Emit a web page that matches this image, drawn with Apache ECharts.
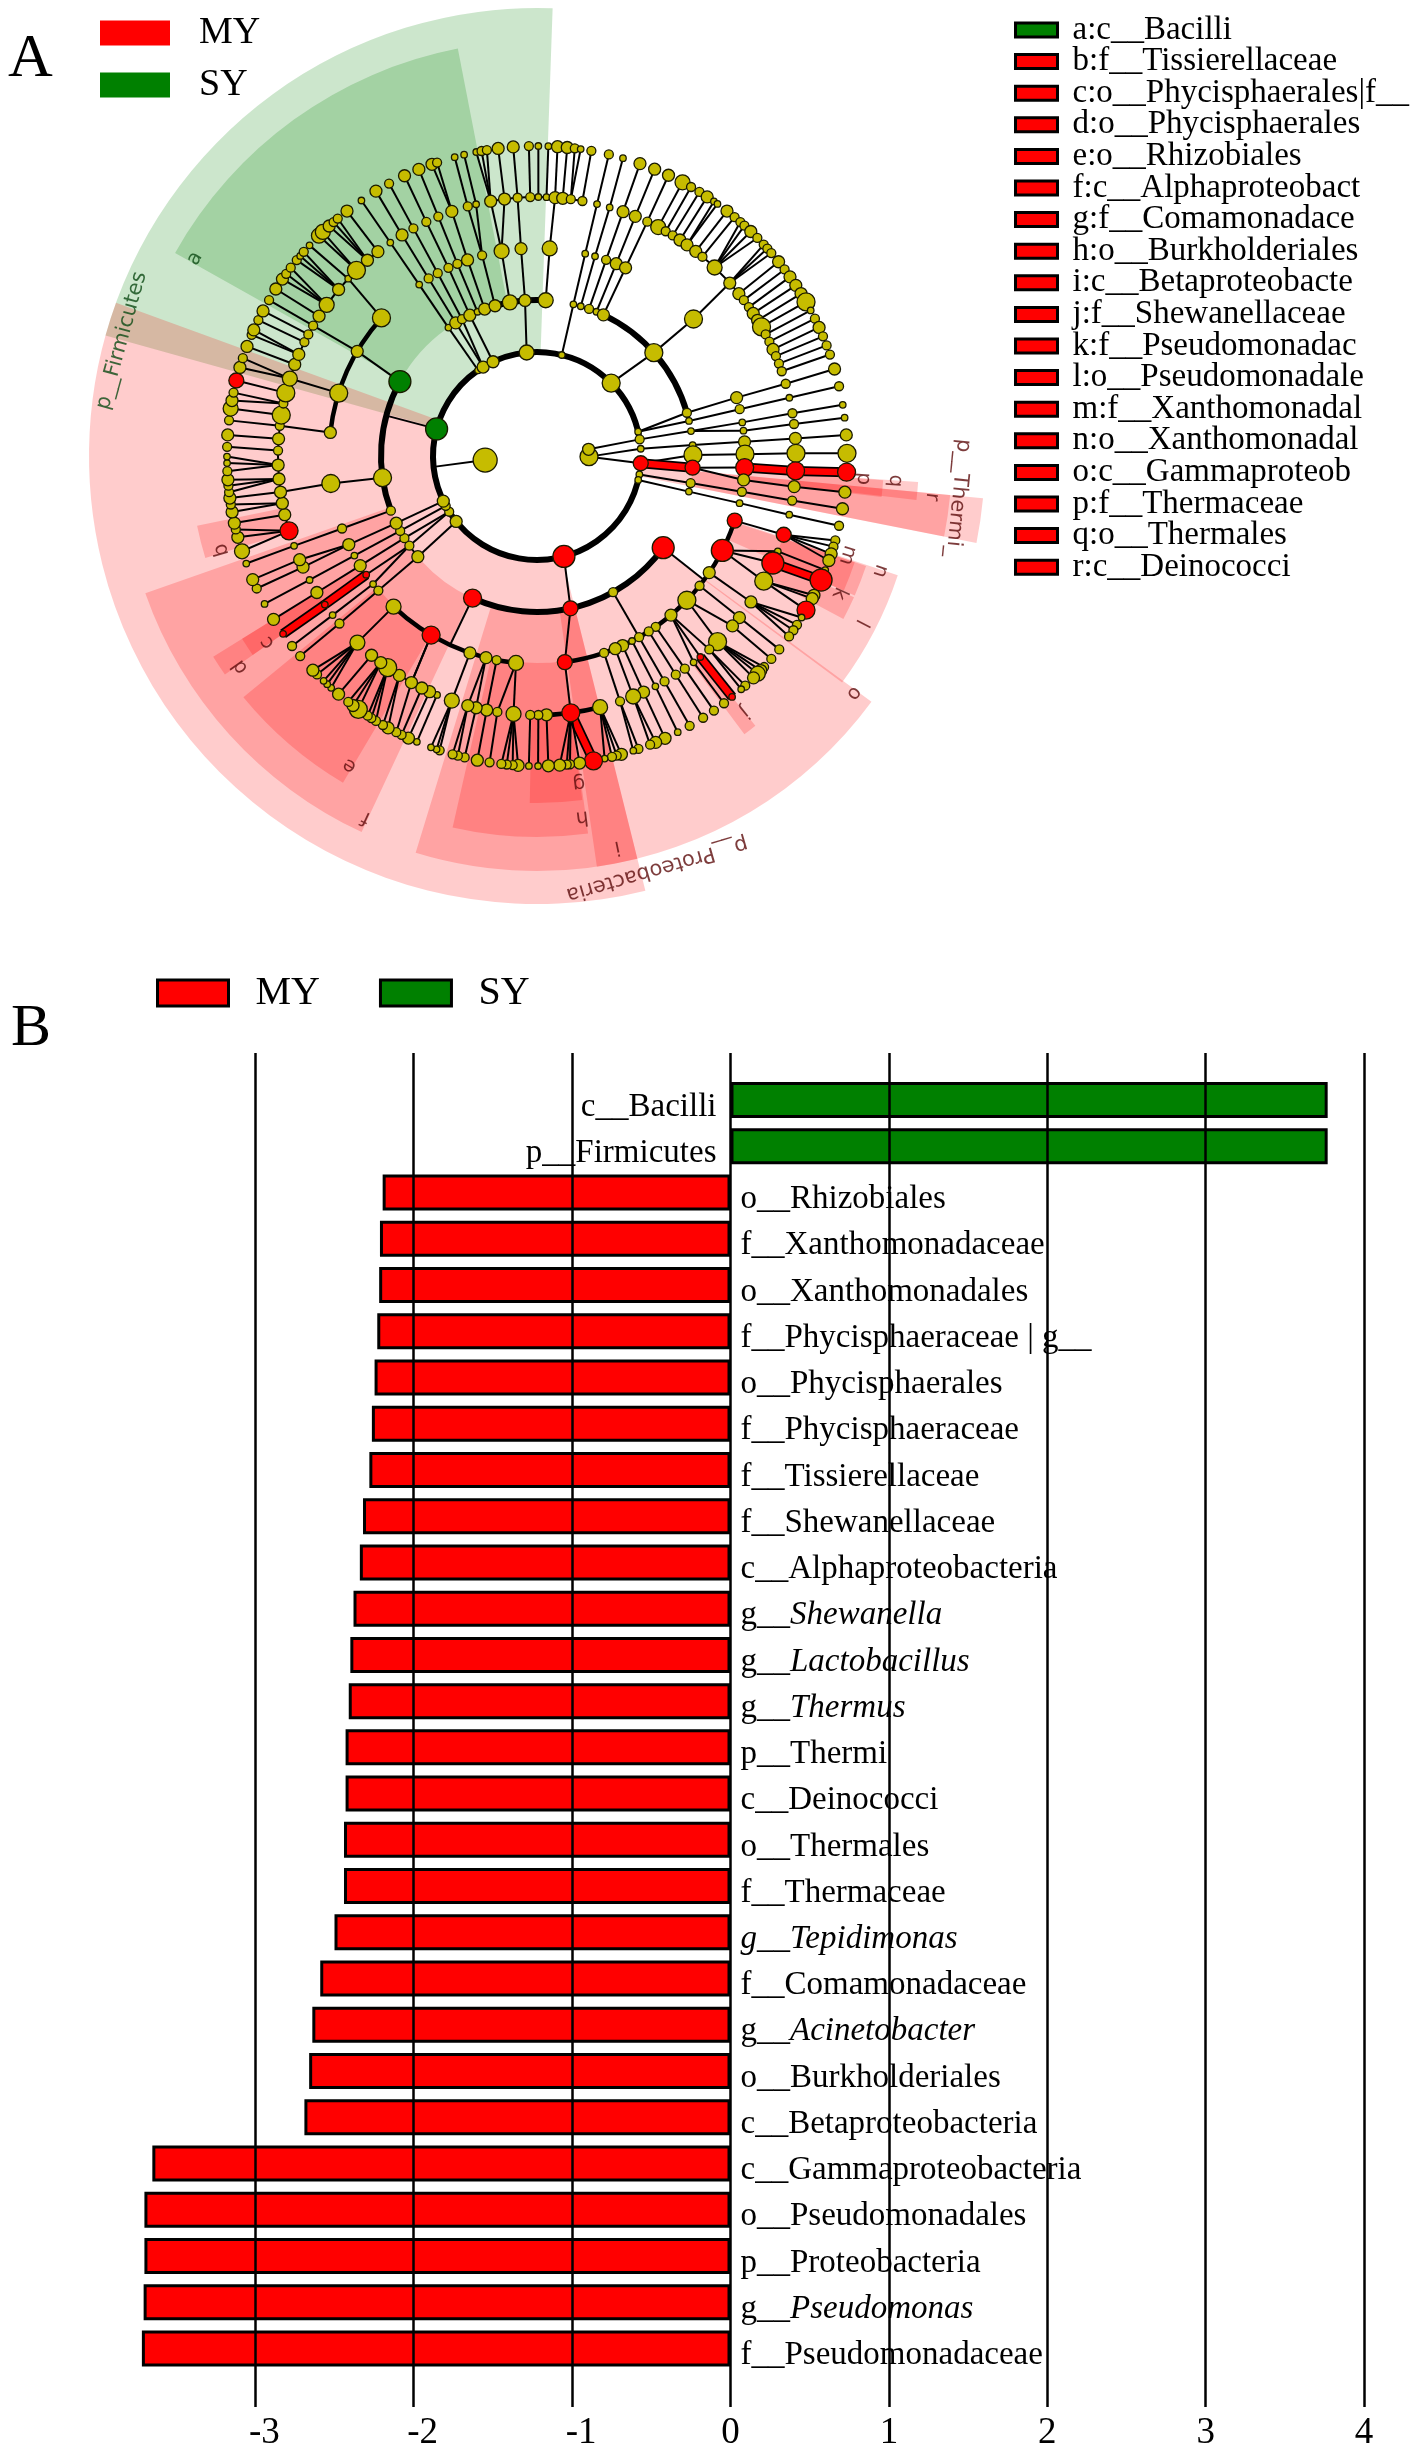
<!DOCTYPE html>
<html>
<head>
<meta charset="utf-8">
<style>html,body{margin:0;padding:0;background:#fff}#c{width:1418px;height:2453px}</style>
<script src="https://cdn.jsdelivr.net/npm/echarts@6/dist/echarts.min.js"></script>
</head>
<body>
<div id="c"></div>
<script>
// ---------- Panel B data ----------
const categories = ['c__Bacilli','p__Firmicutes','o__Rhizobiales','f__Xanthomonadaceae','o__Xanthomonadales','f__Phycisphaeraceae | g__','o__Phycisphaerales','f__Phycisphaeraceae','f__Tissierellaceae','f__Shewanellaceae','c__Alphaproteobacteria','g__Shewanella','g__Lactobacillus','g__Thermus','p__Thermi','c__Deinococci','o__Thermales','f__Thermaceae','g__Tepidimonas','f__Comamonadaceae','g__Acinetobacter','o__Burkholderiales','c__Betaproteobacteria','c__Gammaproteobacteria','o__Pseudomonadales','p__Proteobacteria','g__Pseudomonas','f__Pseudomonadaceae'];
const myValues = [null,null,-2.196,-2.213,-2.218,-2.23,-2.247,-2.264,-2.28,-2.32,-2.34,-2.38,-2.40,-2.41,-2.43,-2.43,-2.44,-2.44,-2.50,-2.59,-2.64,-2.66,-2.69,-3.65,-3.70,-3.70,-3.705,-3.716];
const syValues = [3.77,3.77];
const xTicks = [-3,-2,-1,0,1,2,3,4];
const wholeItalic = ['g__Tepidimonas'];

// ---------- Panel A data: clades shaded on the cladogram ----------
// [name, inner radius, outer radius, from angle, to angle, group]
const cladeSectors = [
  ['p__Firmicutes',104,448,285.6,362,'SY'],
  ['p__Proteobacteria',104,448,166,290,'MY'],
  ['p__Thermi_',104,448,95.4,101.2,'MY'],
  ['a:c__Bacilli',156,415,299.3,349,'SY'],
  ['b:f__Tissierellaceae',259,347,252.9,258.4,'MY'],
  ['c:o__Phycisphaerales|f__',259,347,235,238.2,'MY'],
  ['d:o__Phycisphaerales',207,381,235,238.2,'MY'],
  ['e:o__Rhizobiales',207,380,210.7,230.6,'MY'],
  ['f:c__Alphaproteobact',156,415,205,250.7,'MY'],
  ['g:f__Comamonadace',259,347,172.5,181.2,'MY'],
  ['h:o__Burkholderiales',207,381,172.3,192.8,'MY'],
  ['i:c__Betaproteobacte',156,415,166,197,'MY'],
  ['j:f__Shewanellaceae',259,347,141,143.3,'MY'],
  ['k:f__Pseudomonadac',259,347,114,118,'MY'],
  ['l:o__Pseudomonadale',207,380,108.3,126.6,'MY'],
  ['m:f__Xanthomonadal',259,335,108.5,113.7,'MY'],
  ['n:o__Xanthomonadal',207,347,108.5,113.7,'MY'],
  ['o:c__Gammaproteob',156,415,126.3,171.7,'MY'],
  ['p:f__Thermaceae',259,347,94,96.8,'MY'],
  ['q:o__Thermales',207,382,93.9,96.6,'MY'],
  ['r:c__Deinococci',156,415,95.4,101.2,'MY']
];
const legendNames = ['a:c__Bacilli','b:f__Tissierellaceae','c:o__Phycisphaerales|f__','d:o__Phycisphaerales','e:o__Rhizobiales','f:c__Alphaproteobact','g:f__Comamonadace','h:o__Burkholderiales','i:c__Betaproteobacte','j:f__Shewanellaceae','k:f__Pseudomonadac','l:o__Pseudomonadale','m:f__Xanthomonadal','n:o__Xanthomonadal','o:c__Gammaproteob','p:f__Thermaceae','q:o__Thermales','r:c__Deinococci'];
// [text, radius, angle, group]
const cladeLabels = [
  ['p__Firmicutes',431,285.5,'SY'],['p__Proteobacteria',430,163.8,'MY'],['p__Thermi_',423,95.7,'MY'],
  ['a',395,300,'SY'],['b',329,253.4,'MY'],['c',328,235.3,'MY'],['d',364,234.6,'MY'],['e',362,211.2,'MY'],
  ['f',400,205.3,'MY'],['g',330,172.7,'MY'],['h',364,172.9,'MY'],['i',399,168.4,'MY'],['j',329,141,'MY'],
  ['k',332,114.4,'MY'],['l',365,117.2,'MY'],['m',326,107.7,'MY'],['n',362,108.5,'MY'],['o',396,126.8,'MY'],
  ['p',327,94,'MY'],['q',359,94,'MY'],['r',397,95.9,'MY']
];

// ---------- Panel A data: tree, one list per taxonomic ring ----------
const ringRadii = [52,104,156,208,259,310];
// node: [angle, abundance class, parent angle on the previous ring, status]
// status: r = red, g = green, R = red with a thick red branch
const kingdomRing = [[265.5,7],[90.7,5],[82.6,3]];
const phylumRing = [[354.3,4],[13.8,1],[45.5,5],[76.5,1],[80.8,2,82.6],[86,1,90.7],[94,4,90.7,'r'],[100.2,1],[103.3,1],[165,6,null,'r'],[231,3],[237.6,2],[241.4,2],[244.3,3],[285.1,6,null,'g'],[325.5,1],[328.8,3],[335,3]];
const classRing = [[13.5,1,13.8],[16.3,1],[19.5,2],[22.4,1],[25.2,3],[48.5,5,45.5],[73.9,2,76.5],[77,1,76.5],[80.8,1,80.8],[86,1,86],[89.6,5,94],[94.3,4,94,'R'],[100,2,100.2],[103.2,1,103.3],[126,6,null,'r'],[150.8,2],[167.6,4,165,'r'],[204.4,5,null,'r'],[229.8,3,231],[234.9,2,237.6],[238.2,2,237.6],[241.3,2,241.4],[244.5,3,244.3],[249.5,2],[262,5],[298.5,6,null,'g'],[325.4,1,325.5],[328.6,3,328.8],[331.3,2,328.8],[334.5,3,335],[337.6,1],[340.4,3],[344.4,3],[350,4],[355.6,3,354.3],[3.2,4]];
const orderRing = [[13.4,1,13.5],[16.2,1,16.3],[19.4,2,19.5],[22.4,3,22.4],[25.2,3,25.2],[48.8,5,48.5],[73.7,3,73.9],[77,2,77],[80.7,1,80.8],[83,1,80.8],[86.1,3,86],[89.5,5,89.6],[93.2,5,94.3,'r'],[96.6,3,94.3],[99.9,2,100],[103.1,1,103.2],[108.1,4,null,'r'],[117,6,null,'r'],[124.1,3],[128.6,2],[133.9,5],[139.9,3],[145.2,2],[147.5,2],[150.6,2,150.8],[152.8,1],[155.7,3],[157.9,3],[161.2,2],[172.3,4,167.6,'r'],[185.8,4],[191.2,2],[194.2,3],[198.8,3],[210.6,5,null,'r'],[223.6,4],[229.7,2,229.8],[232,1,234.9],[235.2,1,234.9,'r'],[238.2,3,238.2],[241.4,1,241.3],[244.8,3,244.5],[249.6,2,249.5],[262.4,5,262],[276.5,3],[287.6,5],[300.2,3,298.5],[311.6,5],[325.5,1,325.4],[328.6,2,328.6],[331.5,2,331.3],[334.8,2,334.5],[337.5,2,337.6],[340.5,3,340.4],[344.7,2,344.4],[350.2,4,350],[355.6,3,355.6],[3.5,4,3.2]];
const familyRing = [[13.4,1,13.4],[16.3,1,16.2],[19.4,3,19.4],[22.3,3,22.4],[25.2,2,25.2],[27.9,4],[29.8,2],[31.6,2],[33.5,3],[35.4,3],[37.8,3],[39.7,2],[43.3,4],[48.1,3,48.8],[51.2,3],[53,2],[54.9,2],[56.6,3],[58.4,3],[60.1,5],[62,2],[63.8,2],[65.7,3],[67.3,2],[69.1,2],[70.9,2],[73.8,2,73.7],[77,1,77],[80.5,2,80.7],[82.9,2,83],[86.1,3,86.1],[89.4,5,89.5],[93.3,5,93.2,'R'],[96.8,3,96.6],[99.9,2,99.9],[103.1,1,103.1],[107.7,4,108.1,'r'],[111.6,1,117],[114.4,6,117,'r'],[118.9,5,117],[124.3,3,124.1],[128.6,3,128.6],[131,3,133.9],[135.8,5,133.9],[138.3,2,139.9],[140.9,1,139.9,'r'],[142.8,1,139.9],[145.2,2,145.2],[147.6,2,147.5],[150.5,2,150.6],[152.8,1,152.8],[155.7,3,155.7],[158.2,4,157.9],[161.3,2,161.2],[165.9,4],[172.5,5,172.3,'r'],[177.9,3],[179.7,2],[181.5,2],[185.2,4,185.8],[188.8,2,185.8],[191.2,3,191.2],[193.6,3,194.2],[195.5,3,194.2],[199.2,4,198.8],[202.7,1],[204.5,3],[206.4,3],[209,3,210.6],[212.1,3],[215.2,5],[217.1,3],[219.7,3],[223.9,4,223.6],[229.7,2,229.7],[232.1,1,232],[235,1,235.2,'R'],[238.2,3,238.2],[241.4,1,241.4],[244.6,3,244.8],[246.4,3,244.8],[249.7,1,249.6],[253.2,5,null,'r'],[256.9,3],[259.5,3],[262,3,262.4],[264.9,3],[268,3],[271.2,2],[273.8,3],[276.7,2,276.5],[279.1,5],[281.7,2],[284.1,5],[287.4,4,287.6],[290.7,3],[293.1,3],[296.1,2],[298,2],[300.2,2,300.2],[302.7,3],[305.7,4],[310,3],[313.2,1,311.6],[315.8,5],[319.1,3],[322.1,3],[325.5,1,325.5],[328.6,3,328.6],[331.5,2,331.5],[334.7,2,334.8],[337.6,2,337.5],[340.8,3,340.5],[344.5,2,344.7],[346.4,1,344.7],[349.7,3,350.2],[352.8,3,350.2],[355.7,2,355.6],[358.5,2],[0.3,1],[2.1,1],[4,3,3.5],[5.7,3],[7.5,2],[10.1,2]];
const genusRing = [[0.25,1,0.3],[2.1,1,2.1],[3.8,3,4],[5.6,3,5.7],[7,2,7.5],[8.1,1,7.5],[10.1,2,10.1],[13.4,2,13.4],[16.1,1,16.3],[19.4,3,19.4],[22.3,3,22.3],[25.1,3,25.2],[28,4,27.9],[29.8,2,29.8],[31.6,2,31.6],[33.3,3,33.5],[34.8,1,35.4],[35.6,1,35.4],[37.8,3,37.8],[39.6,2,39.7],[41,2,43.3],[42,2,43.3],[43.6,3,43.3],[45.3,2,43.3],[47,2,48.1],[48,2,48.1],[49.1,2,48.1],[51.2,3,51.2],[53,2,53],[54.7,3,54.9],[56.6,3,56.6],[58.4,3,58.4],[60.2,5,60.1],[62,1,62],[63.7,2,63.8],[65.5,3,65.7],[67.3,2,67.3],[69.1,2,69.1],[70.9,2,70.9],[73.7,3,73.8],[77,2,77],[80.5,1,80.5],[82.9,1,82.9],[86.1,3,86.1],[89.5,5,89.4],[93,5,93.3,'R'],[96.7,3,96.8],[99.8,3,99.9],[103,2,103.1],[105.8,2,107.7],[107,2,107.7],[108.4,3,107.7],[109.7,3,107.7],[111.6,1,111.6],[113.6,6,114.4,'R'],[116.7,3,118.9],[117.4,3,118.9],[119.8,5,118.9,'r'],[121.4,1,124.3],[123,2,124.3],[124.2,2,124.3],[125.6,2,124.3],[128.6,2,128.6],[130.9,2,131],[132.9,2,135.8],[133.8,3,135.8],[134.6,4,135.8],[135.7,3,135.8],[137.8,2,138.3],[138.8,1,138.3],[141,1,140.9,'R'],[142.9,2,142.8],[145.2,2,145.2],[147.6,2,147.6],[150.5,2,150.5],[153,1,152.8],[155.6,3,155.7],[157.5,3,158.2],[158.6,2,158.2],[160.9,2,161.3],[161.9,1,161.3],[164.2,3,165.9],[165.1,2,165.9],[166,2,165.9],[167.4,1,165.9],[169.5,5,172.5,'R'],[172.1,3,172.5],[173.9,2,172.5],[174.5,2,172.5],[175.8,3,172.5],[177.9,3,177.9],[179.8,1,179.7],[181.5,1,181.5],[183.5,3,185.2],[184.5,2,185.2],[185.6,2,185.2],[186.6,2,185.2],[188.8,2,188.8],[191.1,3,191.2],[193.5,2,193.6],[194.8,2,195.5],[195.8,2,195.5],[198.3,2,199.2],[198.9,1,199.2],[200,1,199.2],[202.8,1,202.7],[204.5,3,204.5],[205.9,2,206.4],[207,2,209],[208.7,3,212.1],[209.8,2,212.1],[211.3,2,215.2],[212.3,2,215.2],[213.1,2,215.2],[215.2,5,217.1],[216.4,3,217.1],[217.5,2,217.1],[219.8,3,219.7],[221.6,1,223.9],[222.6,1,223.9],[223.5,1,223.9],[225.2,2,223.9],[226.3,3,223.9],[229.8,2,229.7],[232.2,2,232.1],[235,1,235,'R'],[238.2,3,238.2],[241.5,1,241.4],[244.7,2,244.6],[246.5,3,246.4],[249.7,1,249.7],[252.1,4,253.2],[254.8,3,253.2],[256.3,2,253.2],[257.5,3,256.9],[259.6,3,259.5],[261,2,259.5],[262.2,3,262],[263.3,2,264.9],[264.5,2,264.9],[265.6,3,264.9],[267.2,2,268],[268.7,1,268],[269.9,1,268],[271.7,2,271.2],[273.9,3,273.8],[276.6,2,276.7],[278.8,4,279.1],[280.3,3,281.7],[281.8,2,281.7],[284.1,4,284.1,'r'],[286.6,3,287.4],[288.4,2,287.4],[290.7,3,290.7],[293,2,293.1],[294,3,293.1],[296,2,296.1],[297.9,3,298],[300.2,2,300.2],[302.6,3,302.7],[304.8,3,305.7],[306,2,305.7],[307.4,2,305.7],[309.2,2,310],[310.2,1,310],[311.2,2,310],[312.8,1,313.2],[315.3,4,315.8],[316.3,4,315.8],[317.9,3,319.1],[319,2,319.1],[320,2,319.1],[322.2,3,322.1],[325.5,1,325.5],[328.7,3,328.6],[331.5,2,331.5],[334.7,3,334.7],[337.6,3,337.6],[340.2,3,340.8],[341.2,2,340.8],[344.6,1,344.5],[346.4,1,346.4],[348.7,1,349.7],[349.7,2,349.7],[350.7,2,349.7],[352.8,3,352.8],[355.6,3,355.7],[358.5,2,358.5]];
// branches that end on an arc rather than on a node: [r0, a0, r1, a1]
const extraBranches = [[52,265.5,104,264],[104,285.1,156,285],[156,126,208,126.6],[156,204.4,208,204.7],[208,210.6,259,209]];
// arcs joining siblings: [radius, from angle, to angle, width class]
const siblingArcs = [
  [104,100,440,3],
  [156,13.5,25.2,1],[156,25.2,73.9,3],[156,126,204.4,3],[156,229.8,244.5,1],[156,249.5,298.5,3],[156,325.4,344.4,1],[156,344.4,363.2,3],
  [208,108.1,161.2,2],[208,161.2,172.3,2],[208,185.8,223.6,2],[208,276.5,311.6,2],
  [259,27.9,70.9,1],[259,165.9,181.5,2],[259,202.7,219.7,1],[259,253.2,322.1,1],[259,349.7,370.1,1]
];

// ---------- styles ----------
const SERIF = '"Liberation Serif","Times New Roman",serif';
const SANS = '"DejaVu Sans",sans-serif';
const sizeOf = {1:6.5,2:9,3:12,4:15,5:18,6:22,7:24};
const fillOf = {y:'#C6BC00',r:'#FF0000',R:'#FF0000',g:'#008000'};
const arcWidth = {1:2,2:4.5,3:6};
const sectorFill = {MY:'rgba(255,0,0,0.2)',SY:'rgba(0,128,0,0.2)'};
const labelInk = {MY:'#5c0b0b',SY:'#0d4a14'};
const CX = 537, CY = 456;

// ---------- build marks from the ring lists ----------
const rings = [kingdomRing,phylumRing,classRing,orderRing,familyRing,genusRing];
const nodeData = [], branchData = [];
rings.forEach((ring, lv) => {
  ring.forEach(n => {
    const a = n[0], ab = n[1], p = n[2], st = n[3] || 'y';
    nodeData.push({value:[ringRadii[lv],a,ab], itemStyle:{color:fillOf[st]}});
    if (lv > 0 && p !== undefined && p !== null) {
      branchData.push([ringRadii[lv-1],p,ringRadii[lv],a, st === 'R' ? 1 : 0]);
    }
  });
});
extraBranches.forEach(b => branchData.push([b[0],b[1],b[2],b[3],0]));

const rad = a => (a - 90) * Math.PI / 180;

const sectorSeries = cladeSectors.map(s => ({
  type:'custom', name:s[0], coordinateSystem:'polar', z:1, silent:true,
  itemStyle:{color:s[5]==='SY'?'#008000':'#FF0000'},
  data:[[s[1],s[2],s[3],s[4]]],
  renderItem:(params, api) => {
    const c = params.coordSys;
    return {type:'sector', shape:{cx:c.cx,cy:c.cy,r0:api.value(0),r:api.value(1),
      startAngle:rad(api.value(2)),endAngle:rad(api.value(3)),clockwise:true},
      style:{fill:sectorFill[s[5]]}};
  }
}));

const branchSeries = {
  type:'custom', coordinateSystem:'polar', z:3, silent:true, data:branchData,
  renderItem:(params, api) => {
    const a = api.coord([api.value(0),api.value(1)]);
    const b = api.coord([api.value(2),api.value(3)]);
    const shape = {x1:a[0],y1:a[1],x2:b[0],y2:b[1]};
    if (api.value(4) === 1) {
      return {type:'group',children:[
        {type:'line',shape,style:{stroke:'#000',lineWidth:10}},
        {type:'line',shape,style:{stroke:'#FF0000',lineWidth:6.5}}
      ]};
    }
    return {type:'line',shape,style:{stroke:'#000',lineWidth:2}};
  }
};
const arcSeries = {
  type:'custom', coordinateSystem:'polar', z:3, silent:true, data:siblingArcs,
  renderItem:(params, api) => {
    const c = params.coordSys;
    return {type:'arc',shape:{cx:c.cx,cy:c.cy,r:api.value(0),startAngle:rad(api.value(1)),endAngle:rad(api.value(2)),clockwise:true},
      style:{stroke:'#000',fill:null,lineWidth:arcWidth[api.value(3)]}};
  }
};
const nodeSeries = {
  type:'scatter', coordinateSystem:'polar', z:4, silent:true, data:nodeData,
  symbolSize:v => sizeOf[v[2]],
  itemStyle:{borderColor:'#1a1a00',borderWidth:1.3,opacity:1}
};
const labelSeries = {
  type:'scatter', coordinateSystem:'polar', z:5, silent:true, symbolSize:0,
  data:cladeLabels.map(l => ({name:l[0],value:[l[1],l[2]],
    label:{show:true,position:'inside',formatter:l[0],rotate:-l[2],color:labelInk[l[3]],fontFamily:SANS,fontSize:l[0].length>1?21:20}}))
};
const barLabel = p => {
  if (wholeItalic.indexOf(p.name) >= 0) return '{i|' + p.name + '}';
  return p.name.indexOf('g__') === 0 ? 'g__{i|' + p.name.slice(3) + '}' : p.name;
};
const tickLabel = v => {
  if (xTicks.indexOf(v) < 0) return '';
  return v < 0 ? '{n|' + v + '}' : String(v);
};

const option = {
  animation:false,
  backgroundColor:'#fff',
  title:[
    {text:'A',left:3,top:24,textStyle:{fontFamily:SERIF,fontSize:62,fontWeight:'normal',color:'#000'}},
    {text:'B',left:6,top:994,textStyle:{fontFamily:SERIF,fontSize:60,fontWeight:'normal',color:'#000'}}
  ],
  legend:[
    {orient:'vertical',padding:0,left:100,top:14,itemWidth:70,itemHeight:25,itemGap:14,icon:'rect',selectedMode:false,
     data:[{name:'MY',itemStyle:{borderWidth:0}},{name:'SY',itemStyle:{borderWidth:0}}],
     textStyle:{fontFamily:SERIF,fontSize:38,color:'#000',padding:[0,0,0,24]}},
    {orient:'horizontal',padding:0,left:156,top:973,itemWidth:71,itemHeight:26,itemGap:59,icon:'rect',selectedMode:false,
     data:['MY','SY'],
     itemStyle:{borderColor:'#000',borderWidth:3},
     textStyle:{fontFamily:SERIF,fontSize:40,color:'#000',padding:[0,0,0,22]}},
    {orient:'vertical',padding:0,left:1014,top:13.5,itemWidth:42,itemHeight:14,itemGap:-1.4,icon:'rect',selectedMode:false,
     data:legendNames,
     itemStyle:{borderColor:'#000',borderWidth:3},
     textStyle:{fontFamily:SERIF,fontSize:33,color:'#000',padding:[0,0,0,10]}}
  ],
  polar:{center:[CX,CY],radius:[0,460]},
  radiusAxis:{polarIndex:0,type:'value',min:0,max:460,show:false},
  angleAxis:{polarIndex:0,type:'value',min:0,max:360,startAngle:90,show:false},
  grid:[
    {left:96.9,width:1267.2,top:1076.9,height:1294.7},
    {left:96.9,width:1267.2,top:1053,height:1354}
  ],
  xAxis:[
    {gridIndex:0,type:'value',min:-4,max:4,show:false},
    {gridIndex:1,type:'value',min:-4,max:4,interval:1,z:10,
     axisLine:{show:false},axisTick:{show:false},
     splitLine:{show:true,showMinLine:false,lineStyle:{color:'#000',width:2.5}},
     axisLabel:{margin:8,fontFamily:SERIF,fontSize:37,color:'#000',formatter:tickLabel,
       rich:{n:{fontFamily:SERIF,fontSize:37,color:'#000',padding:[0,0,0,18]}}}}
  ],
  yAxis:[
    {gridIndex:0,type:'category',inverse:true,data:categories,show:false},
    {gridIndex:1,type:'value',min:0,max:1,show:false}
  ],
  series:[
    ...sectorSeries,
    branchSeries, arcSeries, nodeSeries, labelSeries,
    ...[['MY',myValues,'#FF0000','right',10],['SY',syValues,'#008000','left',14]].map(s => ({
      type:'bar',name:s[0],xAxisIndex:0,yAxisIndex:0,data:s[1],barWidth:36,barGap:'-100%',z:2,silent:true,
      itemStyle:{color:s[2],borderColor:'#000',borderWidth:3},
      label:{show:true,position:s[3],distance:s[4],offset:[0,7],fontFamily:SERIF,fontSize:33,color:'#000',
        formatter:barLabel,
        rich:{i:{fontFamily:SERIF,fontSize:33,fontStyle:'italic',color:'#000'}}}
    }))
  ]
};
echarts.init(document.getElementById('c'),null,{renderer:'canvas'}).setOption(option);
</script>
</body>
</html>
